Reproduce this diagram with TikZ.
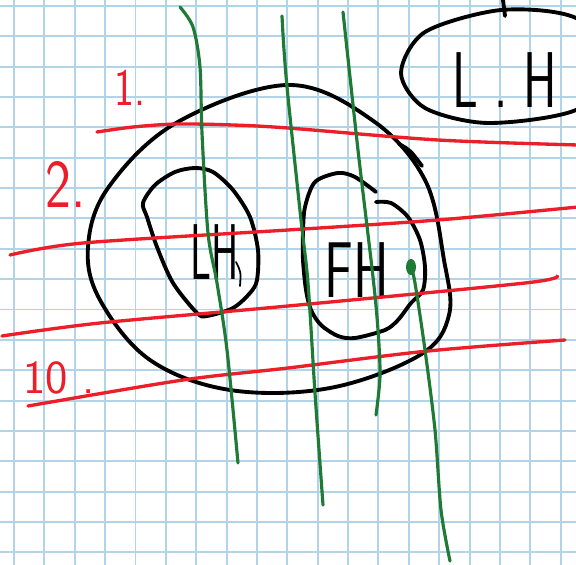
\documentclass[tikz,border=0pt]{standalone}
\usepackage{fontspec}
\definecolor{gridblue}{RGB}{178,212,232}
\definecolor{penred}{RGB}{236,30,42}
\definecolor{pengreen}{RGB}{30,122,52}
\begin{document}
\begin{tikzpicture}[x=0.02cm, y=-0.02cm,
    gridline/.style={draw=gridblue, line width=1.1pt},
    blackpen/.style={draw=black, line width=2.2pt, line cap=round, line join=round},
    redpen/.style={draw=penred, line width=1.9pt, line cap=round},
    greenpen/.style={draw=pengreen, line width=1.8pt, line cap=round},
    bigword/.style={font=\sffamily\fontsize{45}{45}\selectfont, inner sep=0pt},
    redword/.style={text=penred, font=\sffamily\fontsize{30}{30}\selectfont, inner sep=0pt}]
    \useasboundingbox (0,0) rectangle (576,565);
    \fill[white] (0,0) rectangle (576,565);
    \foreach \k in {0,...,18} {
        \draw[gridline] ({14+30.37*\k},0) -- ({14+30.37*\k},565);
        \draw[gridline] (0,{6+30.35*\k}) -- (576,{6+30.35*\k});
    }
    \draw[blackpen] plot[smooth cycle, tension=0.6] coordinates {(88,247) (108,188) (176,123) (288,85) (372,120) (425,180) (444,260) (449,315) (420,355) (330,388) (230,390) (150,360) (100,300)};
    \draw[blackpen] (399,144) .. controls (410,150) .. (422,166);
    \draw[blackpen] plot[smooth cycle] coordinates {(195,168) (213,172) (233,190) (250,217) (258,250) (257,280) (250,293) (233,308) (207,316) (197,313) (173,283) (157,247) (147,217) (143,203) (155,185) (175,172)};
    \draw[blackpen, line width=1pt] (236,262) .. controls (241,272) .. (240,286);
    \draw[blackpen] plot[smooth] coordinates {(376,192) (355,177) (338,173) (315,182) (305,207) (303,233) (303,260) (306,290) (311,310) (321,325) (338,336) (355,338) (385,330) (398,320) (411,303) (423,290) (425,267) (420,240) (408,217) (391,203) (376,202)};
    \draw[blackpen] plot[smooth cycle] coordinates {(401,73) (425,32) (501,10) (576,18) (620,66) (576,110) (488,123) (425,108)};
    \draw[blackpen] (503,0) -- (505,16);
    \node[bigword, xscale=0.52] (lh) at (215,252) {LH};
    \node[bigword, xscale=0.68] (fh) at (357,270) {FH};
    \node[bigword, xscale=0.64] (lhtop) at (505,80) {L . H};
    \draw[redpen] plot[smooth] coordinates {(97,132) (133,127) (177,124) (233,125) (288,128) (438,140) (578,145)};
    \draw[redpen] plot[smooth] coordinates {(10,255) (83,243) (288,230) (438,220) (578,207)};
    \draw[redpen] plot[smooth] coordinates {(2,336) (100,323) (288,306) (525,283) (557,276)};
    \draw[redpen] plot[smooth] coordinates {(28,406) (183,380) (288,368) (428,351) (565,340)};
    \node[redword, xscale=0.8] (one) at (130,88) {1.};
    \node[redword, scale=1.3, xscale=0.8] (two) at (66,184) {2.};
    \node[redword, scale=0.9] (ten) at (59,378) {10 .};
    \draw[greenpen] plot[smooth] coordinates {(180,7) (193,27) (200,67) (202,133) (208,233) (217,283) (227,350) (238,463)};
    \draw[greenpen] plot[smooth] coordinates {(282,16) (284,50) (288,97) (301,220) (308,283) (315,393) (323,505)};
    \draw[greenpen] plot[smooth] coordinates {(343,12) (358,150) (373,277) (378,330) (380,376) (376,415)};
    \draw[greenpen] plot[smooth] coordinates {(411,267) (415,283) (425,350) (435,430) (441,510) (450,561)};
    \fill[pengreen] (411,267) ellipse (5 and 8);
\end{tikzpicture}
\end{document}
